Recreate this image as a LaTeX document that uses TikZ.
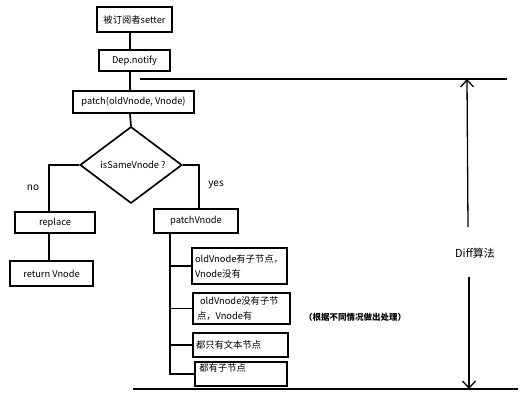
\documentclass[tikz,border=0pt]{standalone}
\usepackage{fontspec}
\setmainfont{Noto Sans CJK SC}
\usetikzlibrary{shapes.geometric,arrows.meta,calc}
\tikzset{
  box/.style={draw, line width=1.7pt, inner sep=2pt, font=\fontsize{9.3}{15}\selectfont},
  conn/.style={line width=1.7pt},
  thin/.style={line width=1.3pt},
  lbl/.style={font=\fontsize{10}{12}\selectfont, inner sep=0pt},
  barb/.style={-{Straight Barb[length=7pt,width=13pt,line width=1.3pt]}}
}
\begin{document}
\begin{tikzpicture}[x=1pt,y=-1pt]
\useasboundingbox (0,0) rectangle (532,403);
% vertical connector columns
\coordinate (spine) at (130,0);
\coordinate (nocol) at (49,0);
\coordinate (yescol) at (199,0);
\coordinate (trunk) at (170,0);
% nodes
\node[box, minimum width=75pt, minimum height=25pt] (setter) at (134.5,19.5) {被订阅者setter};
\node[box, minimum width=71pt, minimum height=21pt] (dep) at (134.5,60.5) {Dep.notify};
\node[box, minimum width=121pt, minimum height=22pt] (patch) at (133.5,102) {patch(oldVnode, Vnode)};
\node[draw, line width=1.7pt, diamond, inner sep=0pt, minimum width=102pt, minimum height=60pt, font=\fontsize{9.3}{11}\selectfont] (dia) at (131,165) {\hspace*{4pt}isSameVnode ?};
\node[box, minimum width=80pt, minimum height=21pt] (replace) at (55,222.5) {replace};
\node[box, minimum width=83pt, minimum height=25pt] (ret) at (51.5,273.5) {return Vnode};
\node[box, minimum width=84pt, minimum height=24pt] (pv) at (196,221) {patchVnode};
\node[box, minimum width=95pt, minimum height=36pt, text width=89pt, align=left] (b1) at (239.5,266) {oldVnode有子节点，\\Vnode没有};
\node[box, minimum width=97pt, minimum height=31pt, text width=89pt, align=left] (b2) at (241.5,308.5) {\hspace*{3pt}oldVnode没有子节\\点，Vnode有};
\node[box, minimum width=95pt, minimum height=24pt, text width=89pt, align=left] (b3) at (240.5,345) {都只有文本节点};
\node[box, minimum width=92pt, minimum height=24pt] (b4) at (241,374) {};
\node[anchor=north west, inner sep=0pt, font=\fontsize{9.3}{11}\selectfont] (b4t) at ($(b4.north west)+(5,2)$) {都有子节点};
% labels
\node[lbl] (no) at (33,188) {no};
\node[lbl] (yes) at (216,185) {yes};
\node[inner sep=0pt, font=\fontsize{8.5}{10}\selectfont\bfseries] (note) at (355,317) {（根据不同情况做出处理）};
\node[inner sep=0pt, font=\fontsize{11}{13}\selectfont] (diff) at (475,253) {Diff算法};
% connectors
\draw[conn] (setter.south -| spine) -- (dep.north -| spine);
\draw[conn] (dep.south -| spine) -- (patch.north -| spine);
\draw[conn] (patch.south -| spine) -- (dia.north);
\draw[conn] (dia.west) -| (replace.north -| nocol);
\draw[conn] (replace.south -| nocol) -- (ret.north -| nocol);
\draw[conn] (dia.east) -| (pv.north -| yescol);
\draw[conn] (pv.south -| trunk) -- (trunk |- b4.west) -- (b4.west);
\draw[conn] (trunk |- b1.west) -- (b1.west);
\draw[conn] (trunk |- b2.west) -- (b2.west);
\draw[conn] (trunk |- b3.west) -- (b3.west);
% Diff range lines
\coordinate (topL) at (140,79);
\coordinate (topR) at (507,79);
\coordinate (botL) at (133,389);
\coordinate (botR) at (518,389);
\coordinate (atop) at (467,79);
\coordinate (amid1) at (468,227);
\coordinate (amid2) at (469,277);
\coordinate (abot) at (469,389);
\draw[thin] (topL) -- (topR);
\draw[thin] (botL) -- (botR);
\draw[thin, barb] (amid1) -- (atop);
\draw[thin, barb] (amid2) -- (abot);
\end{tikzpicture}
\end{document}
